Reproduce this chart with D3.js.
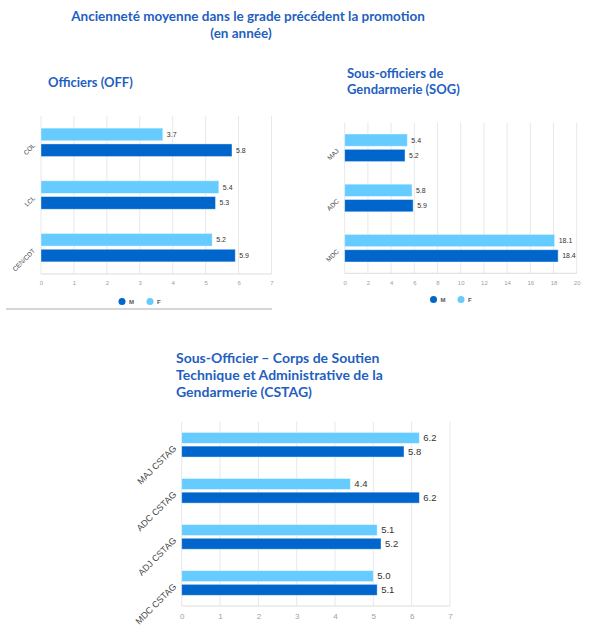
<!DOCTYPE html>
<html>
<head>
<meta charset="utf-8">
<script src="https://cdn.jsdelivr.net/npm/d3@7"></script>
<style>
  body { margin: 0; background: #fff; }
  svg { display: block; font-family: Lato, "Open Sans", sans-serif; }
</style>
</head>
<body>
<svg id="chart" width="594" height="630"></svg>
<script>
// data
var seriesNames = ["F", "M"];

var offCats = ["COL", "LCL", "CEN/CDT"];
var offM = [5.8, 5.3, 5.9];
var offF = [3.7, 5.4, 5.2];
var offTicks = [0, 1, 2, 3, 4, 5, 6, 7];

var sogCats = ["MAJ", "ADC", "MDC"];
var sogM = [5.2, 5.9, 18.4];
var sogF = [5.4, 5.8, 18.1];
var sogTicks = [0, 2, 4, 6, 8, 10, 12, 14, 16, 18, 20];

var cstagCats = ["MAJ CSTAG", "ADC CSTAG", "ADJ CSTAG", "MDC CSTAG"];
var cstagM = [5.8, 6.2, 5.2, 5.1];
var cstagF = [6.2, 4.4, 5.1, 5.0];
var cstagTicks = [0, 1, 2, 3, 4, 5, 6, 7];

var colors = { M: "#0066cc", F: "#66ccff" };
var titleColor = "#1f5fbf";
var chartFont = "'Liberation Sans', Arial, sans-serif";

var svg = d3.select("#chart");

/* titles */
svg.append("text").attr("x", 248).attr("y", 21).attr("text-anchor", "middle")
    .attr("fill", titleColor).attr("font-weight", "bold").attr("font-size", 13.5)
    .text("Ancienneté moyenne dans le grade précédent la promotion");
svg.append("text").attr("x", 241).attr("y", 38).attr("text-anchor", "middle")
    .attr("fill", titleColor).attr("font-weight", "bold").attr("font-size", 13.5)
    .text("(en année)");

function blockTitle (x, y, lines, size, lh) {
    var t = svg.append("text").attr("x", x).attr("y", y)
        .attr("fill", titleColor).attr("font-weight", "bold").attr("font-size", size);
    lines.forEach(function (l, i) {
        t.append("tspan").attr("x", x).attr("dy", i ? lh : 0).text(l);
    });
}
blockTitle(48, 87, ["Officiers (OFF)"], 13, 0);
blockTitle(347, 78, ["Sous-officiers de", "Gendarmerie (SOG)"], 13, 16);
blockTitle(176, 363, ["Sous-Officier \u2013 Corps de Soutien", "Technique et Administrative de la", "Gendarmerie (CSTAG)"], 14, 17);

/*
  draws one horizontal grouped bar chart
*/
function drawBars (o) {
    var g = svg.append("g");
    var x = d3.scaleLinear().domain([0, o.ticks[o.ticks.length - 1]]).range([o.x0, o.x1]);
    var y = d3.scaleBand().domain(o.cats).range([o.y0, o.y1])
        .paddingInner(o.pad).paddingOuter(o.pad / 2);
    var ySub = d3.scaleBand().domain(seriesNames).range([0, y.bandwidth()]).paddingInner(0.2);

    // grid
    g.selectAll(".grid").data(o.ticks).join("line")
        .attr("x1", d => x(d)).attr("x2", d => x(d))
        .attr("y1", o.y0).attr("y2", o.y1)
        .attr("stroke", "#e8e8e8").attr("stroke-width", 1);
    g.append("line").attr("x1", o.x0).attr("x2", o.x1).attr("y1", o.y1).attr("y2", o.y1)
        .attr("stroke", "#dcdcdc");

    var axis = g.append("g").attr("transform", "translate(0," + (o.y1 + 4) + ")")
        .call(d3.axisBottom(x).tickValues(o.ticks).tickSize(0).tickFormat(d3.format("d")));
    axis.select(".domain").remove();
    axis.selectAll("text").attr("fill", "#a0a0a0").attr("font-size", o.tickSize)
        .attr("font-family", chartFont);

    var rows = [];
    o.cats.forEach(function (c, i) {
        rows.push({ cat: c, s: "F", v: o.F[i] });
        rows.push({ cat: c, s: "M", v: o.M[i] });
    });

    g.selectAll(".bar").data(rows).join("rect")
        .attr("x", x(0))
        .attr("y", d => y(d.cat) + ySub(d.s))
        .attr("width", d => x(d.v) - x(0))
        .attr("height", ySub.bandwidth())
        .attr("fill", d => colors[d.s])
        .attr("stroke", "#ffffff").attr("stroke-opacity", 0.5).attr("stroke-width", 0.8);

    g.selectAll(".val").data(rows).join("text")
        .attr("x", d => x(d.v) + 4)
        .attr("y", d => y(d.cat) + ySub(d.s) + ySub.bandwidth() / 2)
        .attr("dy", "0.35em")
        .attr("fill", "#333").attr("font-size", o.valSize)
        .attr("font-family", chartFont)
        .text(d => d3.format(".1f")(d.v));

    g.selectAll(".cat").data(o.cats).join("text")
        .attr("transform", d => "translate(" + (o.x0 - 7) + "," + (y(d) + y.bandwidth() / 2 + 2) + ") rotate(-45)")
        .attr("text-anchor", "end").attr("dy", "0.35em")
        .attr("fill", "#444").attr("font-size", o.catSize)
        .attr("font-family", chartFont)
        .text(d => d);

    if (o.legendY) {
        var lg = g.selectAll(".lg").data(["M", "F"]).join("g")
            .attr("transform", (d, i) => "translate(" + o.legendX[i] + "," + o.legendY + ")");
        lg.append("circle").attr("r", 3.5).attr("fill", d => colors[d]);
        lg.append("text").attr("x", 7).attr("dy", "0.35em")
            .attr("fill", "#555").attr("font-size", 6).attr("font-weight", "bold")
            .attr("font-family", chartFont)
            .text(d => d);
    }
}

drawBars({ cats: offCats, M: offM, F: offF, ticks: offTicks,
    x0: 41, x1: 271.5, y0: 116, y1: 274, pad: 0.46,
    tickSize: 6, valSize: 7, catSize: 6.5, legendX: [122, 150], legendY: 301.5 });

drawBars({ cats: sogCats, M: sogM, F: sogF, ticks: sogTicks,
    x0: 344.7, x1: 576.7, y0: 122.7, y1: 273.3, pad: 0.45,
    tickSize: 6, valSize: 7, catSize: 6.5, legendX: [433.5, 461], legendY: 299.5 });

drawBars({ cats: cstagCats, M: cstagM, F: cstagF, ticks: cstagTicks,
    x0: 181.7, x1: 450, y0: 421.7, y1: 606, pad: 0.465,
    tickSize: 8, valSize: 9.5, catSize: 9 });

// separator under the first chart
svg.append("line").attr("x1", 6).attr("x2", 272).attr("y1", 309).attr("y2", 309)
    .attr("stroke", "#c8c8c8").attr("stroke-width", 1.5);
</script>
</body>
</html>
